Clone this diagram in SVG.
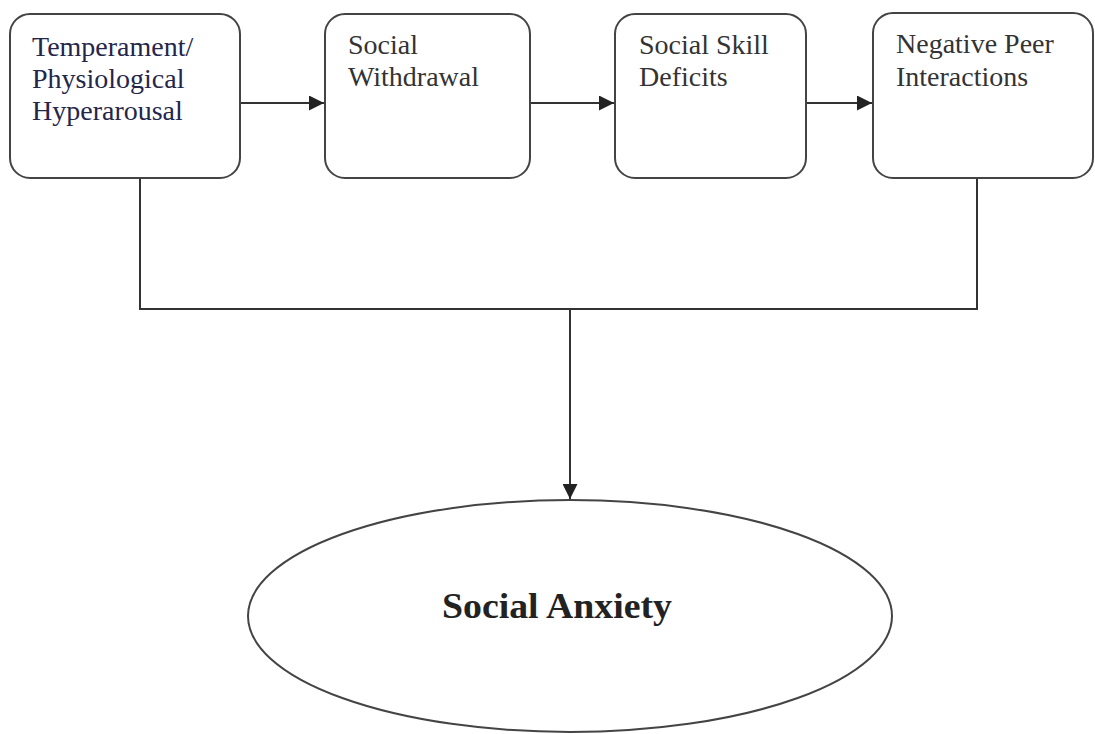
<svg xmlns="http://www.w3.org/2000/svg" width="1095" height="734" viewBox="0 0 1095 734">
<defs>
<style>
.box{fill:#fff;stroke:#444;stroke-width:2}
.lbl{font-family:"Liberation Serif","Times New Roman",serif;font-size:28px;fill:#333}
.line{fill:none;stroke:#333;stroke-width:2}
</style>
<marker id="arr" viewBox="0 0 10 10" refX="10" refY="5" markerWidth="8" markerHeight="8" markerUnits="userSpaceOnUse" orient="auto">
<path d="M0,0 L10,5 L0,10 Z" fill="#222"/>
</marker>
<marker id="arrB" viewBox="0 0 10 10" refX="10" refY="5" markerWidth="15" markerHeight="15" markerUnits="userSpaceOnUse" orient="auto">
<path d="M0,0 L10,5 L0,10 Z" fill="#222"/>
</marker>
</defs>
<rect width="1095" height="734" fill="#fff"/>
<g id="connectors">
<line class="line" x1="240" y1="103" x2="324" y2="103" marker-end="url(#arrB)"/>
<line class="line" x1="530" y1="103" x2="614" y2="103" marker-end="url(#arrB)"/>
<line class="line" x1="806" y1="103" x2="872" y2="103" marker-end="url(#arrB)"/>
<polyline class="line" points="140,178 140,309 977,309 977,178"/>
<line class="line" x1="570" y1="309" x2="570" y2="499" marker-end="url(#arrB)"/>
</g>
<g id="n1">
<rect class="box" x="10" y="14" width="230" height="164" rx="20"/>
<text class="lbl" style="fill:#24264a"><tspan x="32" y="56">Temperament/</tspan><tspan x="32" y="88">Physiological</tspan><tspan x="32" y="120">Hyperarousal</tspan></text>
</g>
<g id="n2">
<rect class="box" x="325" y="14" width="205" height="164" rx="20"/>
<text class="lbl"><tspan x="348" y="54">Social</tspan><tspan x="348" y="86">Withdrawal</tspan></text>
</g>
<g id="n3">
<rect class="box" x="615" y="14" width="191" height="164" rx="20"/>
<text class="lbl"><tspan x="639" y="54">Social Skill</tspan><tspan x="639" y="86">Deficits</tspan></text>
</g>
<g id="n4">
<rect class="box" x="873" y="13" width="220" height="165" rx="20"/>
<text class="lbl"><tspan x="896" y="53">Negative Peer</tspan><tspan x="896" y="86">Interactions</tspan></text>
</g>
<g id="n5">
<ellipse class="box" cx="570" cy="616" rx="322" ry="116"/>
<text x="557" y="618" text-anchor="middle" textLength="230" lengthAdjust="spacingAndGlyphs" style="font-family:'Liberation Serif','Times New Roman',serif;font-size:35px;font-weight:bold;fill:#222">Social Anxiety</text>
</g>
</svg>
